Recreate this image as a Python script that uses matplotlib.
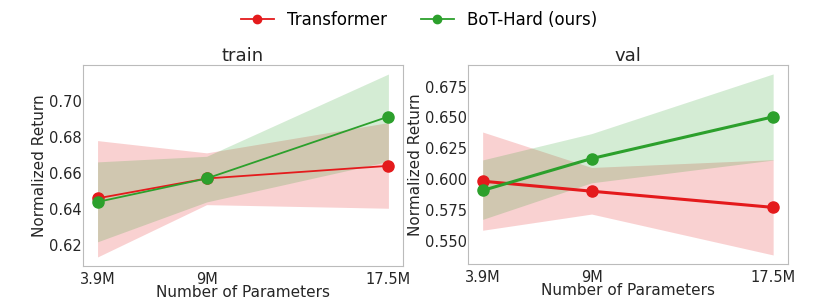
import numpy as np
import matplotlib.pyplot as plt

params = [3.9, 9.0, 17.5]
tick_labels = ["3.9M", "9M", "17.5M"]

# train panel
train_tf_mean = [0.646, 0.657, 0.664]
train_tf_lo = [0.6135, 0.6425, 0.6405]
train_tf_hi = [0.678, 0.6712, 0.688]
train_bot_mean = [0.644, 0.657, 0.6913]
train_bot_lo = [0.6219, 0.644, 0.6665]
train_bot_hi = [0.6662, 0.6693, 0.7149]

# val panel
val_tf_mean = [0.5984, 0.5903, 0.5772]
val_tf_lo = [0.5587, 0.5718, 0.5387]
val_tf_hi = [0.6382, 0.6095, 0.6158]
val_bot_mean = [0.5909, 0.6167, 0.6505]
val_bot_lo = [0.5675, 0.5971, 0.6155]
val_bot_hi = [0.6156, 0.6369, 0.6852]

red = '#e41a1c'
green = '#2ca02c'

fig = plt.figure(figsize=(8.3, 2.99), dpi=100)
ax1 = fig.add_axes([0.100, 0.110, 0.3855, 0.673])
ax2 = fig.add_axes([0.564, 0.117, 0.385, 0.666])


def draw(ax, title, tf, bot, lw):
    ax.fill_between(params, tf[1], tf[2], color=red, alpha=0.2, lw=0)
    ax.fill_between(params, bot[1], bot[2], color=green, alpha=0.2, lw=0)
    ax.plot(params, tf[0], color=red, marker='o', markersize=8, lw=lw, label='Transformer')
    ax.plot(params, bot[0], color=green, marker='o', markersize=8, lw=lw, label='BoT-Hard (ours)')
    ax.set_title(title, fontsize=13, color='#262626', pad=3)
    ax.set_xticks(params)
    ax.set_xticklabels(tick_labels)
    ax.set_xlabel("Number of Parameters", fontsize=11, color='#262626', labelpad=-1)
    ax.set_ylabel("Normalized Return", fontsize=11, color='#262626', labelpad=1)
    ax.tick_params(length=0, labelsize=10.5, labelcolor='#262626')
    ax.tick_params(axis='x', pad=4)
    ax.tick_params(axis='y', pad=1)
    for s in ax.spines.values():
        s.set_color('#bbbbbb')


draw(ax1, "train", (train_tf_mean, train_tf_lo, train_tf_hi),
     (train_bot_mean, train_bot_lo, train_bot_hi), 1.3)
draw(ax2, "val", (val_tf_mean, val_tf_lo, val_tf_hi),
     (val_bot_mean, val_bot_lo, val_bot_hi), 2.2)
ax2.set_yticks([0.55, 0.575, 0.6, 0.625, 0.65, 0.675])
ax1.set_yticks([0.62, 0.64, 0.66, 0.68, 0.70])

h, l = ax1.get_legend_handles_labels()
fig.legend(h, l, loc='upper center', bbox_to_anchor=(0.505, 1.015), ncol=2, frameon=False,
           fontsize=12, markerscale=0.75, handlelength=2.0, columnspacing=2.0)

fig.savefig("out.png", dpi=100)
